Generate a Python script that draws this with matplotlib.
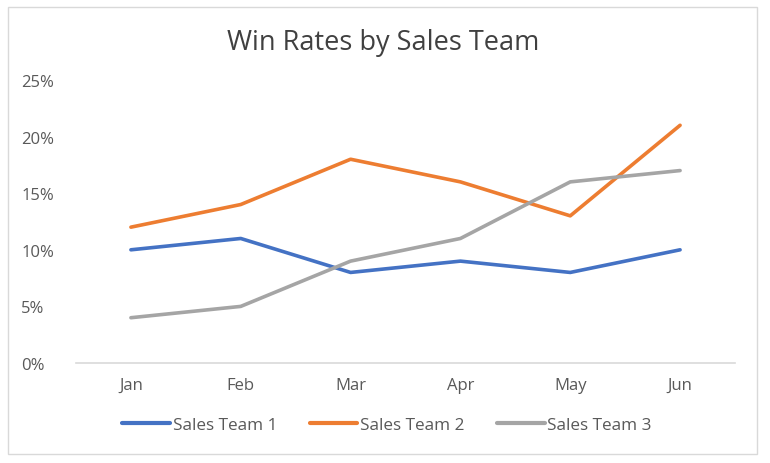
import matplotlib
matplotlib.use("Agg")
import matplotlib.pyplot as plt
from matplotlib.patches import Rectangle
from matplotlib.ticker import FuncFormatter

plt.rcParams['font.family'] = ['Open Sans', 'DejaVu Sans']

months = ["Jan", "Feb", "Mar", "Apr", "May", "Jun"]
team1 = [0.10, 0.11, 0.08, 0.09, 0.08, 0.10]
team2 = [0.12, 0.14, 0.18, 0.16, 0.13, 0.21]
team3 = [0.04, 0.05, 0.09, 0.11, 0.16, 0.17]
series_names = ["Sales Team 1", "Sales Team 2", "Sales Team 3"]
colors = ["#4472C4", "#ED7D31", "#A5A5A5"]
yticks = [0, 0.05, 0.10, 0.15, 0.20, 0.25]

W, H = 770, 464
fig = plt.figure(figsize=(W / 100, H / 100), dpi=100)
fig.patch.set_facecolor("white")

# chart border
fig.add_artist(Rectangle((8 / W, 1 - 455 / H), (757 - 8) / W, (455 - 8) / H,
                         transform=fig.transFigure, fill=False,
                         edgecolor="#D9D9D9", linewidth=1.0))

ax = fig.add_axes([76 / W, 1 - 364 / H, (735 - 76) / W, (364 - 81) / H])
x = list(range(len(months)))
for vals, name, c in zip([team1, team2, team3], series_names, colors):
    ax.plot(x, vals, color=c, linewidth=2.6, label=name, solid_capstyle="round",
            solid_joinstyle="round")

ax.set_xlim(-0.5, len(months) - 0.5)
ax.set_ylim(0, 0.25)
ax.set_yticks(yticks)
ax.yaxis.set_major_formatter(FuncFormatter(lambda v, p: f"{v*100:.0f}%"))
ax.set_xticks(x)
ax.set_xticklabels(months)
for s in ["top", "right", "left"]:
    ax.spines[s].set_visible(False)
ax.spines["bottom"].set_color("#D9D9D9")
ax.spines["bottom"].set_linewidth(1.2)
ax.tick_params(axis="both", length=0, colors="#595959", labelsize=12)
ax.tick_params(axis="x", pad=10)
for lbl in ax.get_yticklabels():
    lbl.set_horizontalalignment("left")
    lbl.set_x(-0.083)
ax.tick_params(axis="y", pad=0)

fig.text(383 / W, 1 - 43 / H, "Win Rates by Sales Team", ha="center", va="center",
         fontsize=19.5, color="#404040")

leg = fig.legend(loc="center", bbox_to_anchor=(387 / W, 1 - 426 / H), ncol=3,
                 frameon=False, fontsize=12.3, handlelength=2.8, handletextpad=0.15,
                 columnspacing=1.9)
for t in leg.get_texts():
    t.set_color("#595959")
for l in leg.get_lines():
    l.set_linewidth(3)

fig.savefig("out.png", dpi=100, facecolor="white")
